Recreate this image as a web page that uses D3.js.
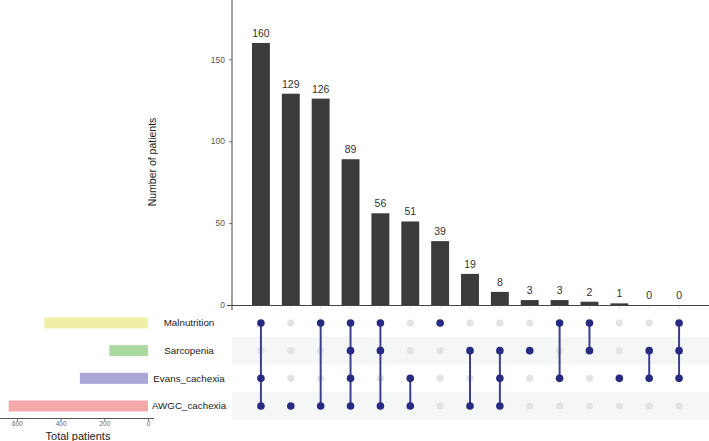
<!DOCTYPE html>
<html>
<head>
<meta charset="utf-8">
<script src="https://cdn.jsdelivr.net/npm/d3@7"></script>
<style>
  body { margin: 0; background: #fff; }
  svg { font-family: "Liberation Sans", Arial, sans-serif; }
</style>
</head>
<body>
<svg width="709" height="441"></svg>
<script>
const svg = d3.select('svg');
const width = +svg.attr('width');
const height = +svg.attr('height');

// data
const sets = ['Malnutrition', 'Sarcopenia', 'Evans_cachexia', 'AWGC_cachexia'];
const setColors = ['#efefa6', '#abd9a2', '#aaa7d6', '#f3a9a9'];
const intersectionCounts = [160, 129, 126, 89, 56, 51, 39, 19, 8, 3, 3, 2, 1, 0, 0];
// which sets are part of each intersection (column by column)
const intersectionSets = [
  ['Malnutrition', 'Evans_cachexia', 'AWGC_cachexia'],
  ['AWGC_cachexia'],
  ['Malnutrition', 'AWGC_cachexia'],
  ['Malnutrition', 'Sarcopenia', 'Evans_cachexia', 'AWGC_cachexia'],
  ['Malnutrition', 'Sarcopenia', 'AWGC_cachexia'],
  ['Evans_cachexia', 'AWGC_cachexia'],
  ['Malnutrition'],
  ['Sarcopenia', 'AWGC_cachexia'],
  ['Sarcopenia', 'Evans_cachexia', 'AWGC_cachexia'],
  ['Sarcopenia'],
  ['Malnutrition', 'Evans_cachexia'],
  ['Malnutrition', 'Sarcopenia'],
  ['Evans_cachexia'],
  ['Sarcopenia', 'Evans_cachexia'],
  ['Malnutrition', 'Sarcopenia', 'Evans_cachexia']
];
const yTicks = [0, 50, 100, 150];
const sizeTicks = [0, 200, 400, 600];

// set totals come from the intersections
const setTotals = sets.map(s => d3.sum(intersectionCounts.filter((c, i) => intersectionSets[i].includes(s))));

const cols = d3.range(intersectionCounts.length);
const x = d3.scaleBand().domain(cols).range([246, 694]).paddingInner(0.4).paddingOuter(0.2);
const y = d3.scaleLinear().domain([0, 185]).range([305, 2]);
const row = d3.scalePoint().domain(sets).range([323, 406]);
const size = d3.scaleLinear().domain([0, 600]).range([148, 17]);

const navy = '#262a80';

// ---- top: intersection bars
const barsG = svg.append('g');

const yAxis = barsG.append('g')
  .attr('transform', 'translate(232,0)')
  .call(d3.axisLeft(y).tickValues(yTicks).tickSize(3).tickSizeOuter(0));
yAxis.select('.domain').remove();
yAxis.selectAll('line').attr('stroke', '#777');
yAxis.selectAll('text').attr('fill', '#555').style('font-size', '8.5px').attr('dx', '-1');

barsG.append('line')
  .attr('x1', 232).attr('x2', 232).attr('y1', 0).attr('y2', 310)
  .attr('stroke', '#444').attr('stroke-width', 1);
barsG.append('line')
  .attr('x1', 227).attr('x2', width).attr('y1', 305.5).attr('y2', 305.5)
  .attr('stroke', '#444').attr('stroke-width', 1.2);

barsG.selectAll('.tick-x').data(cols).enter().append('line')
  .attr('x1', d => x(d) + x.bandwidth() / 2).attr('x2', d => x(d) + x.bandwidth() / 2)
  .attr('y1', 306).attr('y2', 309)
  .attr('stroke', '#ddd');

barsG.selectAll('rect.bar').data(intersectionCounts).enter().append('rect')
  .attr('class', 'bar')
  .attr('x', (d, i) => x(i))
  .attr('width', x.bandwidth())
  .attr('y', d => y(d))
  .attr('height', d => y(0) - y(d))
  .attr('fill', '#3b3b3b');

barsG.selectAll('text.count').data(intersectionCounts).enter().append('text')
  .attr('class', 'count')
  .attr('x', (d, i) => x(i) + x.bandwidth() / 2)
  .attr('y', d => y(d) - 6)
  .attr('text-anchor', 'middle')
  .attr('fill', '#333')
  .style('font-size', '10.5px')
  .text(d => d);

barsG.append('text')
  .attr('transform', 'translate(156,162) rotate(-90)')
  .attr('text-anchor', 'middle')
  .attr('fill', '#222')
  .style('font-size', '10.5px')
  .text('Number of patients');

// ---- matrix
const matrix = svg.append('g');
const rowStep = row.step();

matrix.selectAll('rect.stripe').data(sets.filter((s, i) => i % 2 === 1)).enter().append('rect')
  .attr('class', 'stripe')
  .attr('x', 232).attr('width', width - 232)
  .attr('y', d => row(d) - rowStep / 2)
  .attr('height', rowStep)
  .attr('fill', '#f5f7f7');

cols.forEach(i => {
  const g = matrix.append('g');
  const cx = x(i) + x.bandwidth() / 2;
  const members = intersectionSets[i];
  sets.forEach(s => {
    if (!members.includes(s)) {
      g.append('circle').attr('cx', cx).attr('cy', row(s)).attr('r', 3.6).attr('fill', '#e3e3e3');
    }
  });
  const ys = members.map(s => row(s));
  if (ys.length > 1) {
    g.append('line')
      .attr('x1', cx).attr('x2', cx)
      .attr('y1', d3.min(ys)).attr('y2', d3.max(ys))
      .attr('stroke', '#3c3f91').attr('stroke-width', 2);
  }
  members.forEach(s => {
    g.append('circle').attr('cx', cx).attr('cy', row(s)).attr('r', 3.8).attr('fill', navy);
  });
});

// ---- left: set sizes
const left = svg.append('g');

left.selectAll('rect.set').data(setTotals).enter().append('rect')
  .attr('class', 'set')
  .attr('x', d => size(d))
  .attr('width', d => size(0) - size(d))
  .attr('y', (d, i) => row(sets[i]) - 5.5)
  .attr('height', 11)
  .attr('fill', (d, i) => setColors[i]);

left.selectAll('text.setname').data(sets).enter().append('text')
  .attr('class', 'setname')
  .attr('x', 189)
  .attr('y', d => row(d))
  .attr('dy', '0.35em')
  .attr('text-anchor', 'middle')
  .attr('fill', '#222')
  .style('font-size', '9.8px')
  .text(d => d);

const sizeAxis = left.append('g')
  .attr('transform', 'translate(0,418)')
  .call(d3.axisBottom(size).tickValues(sizeTicks).tickSize(3).tickSizeOuter(0).tickPadding(2));
sizeAxis.select('.domain').remove();
sizeAxis.selectAll('line').attr('stroke', '#777');
sizeAxis.selectAll('text').attr('fill', '#666').style('font-size', '6.5px').attr('dy', '0.5em');
left.append('line')
  .attr('x1', 0).attr('x2', 154).attr('y1', 418.5).attr('y2', 418.5)
  .attr('stroke', '#555');

left.append('text')
  .attr('x', 78).attr('y', 440)
  .attr('text-anchor', 'middle')
  .attr('fill', '#222')
  .style('font-size', '11px')
  .text('Total patients');
</script>
</body>
</html>
